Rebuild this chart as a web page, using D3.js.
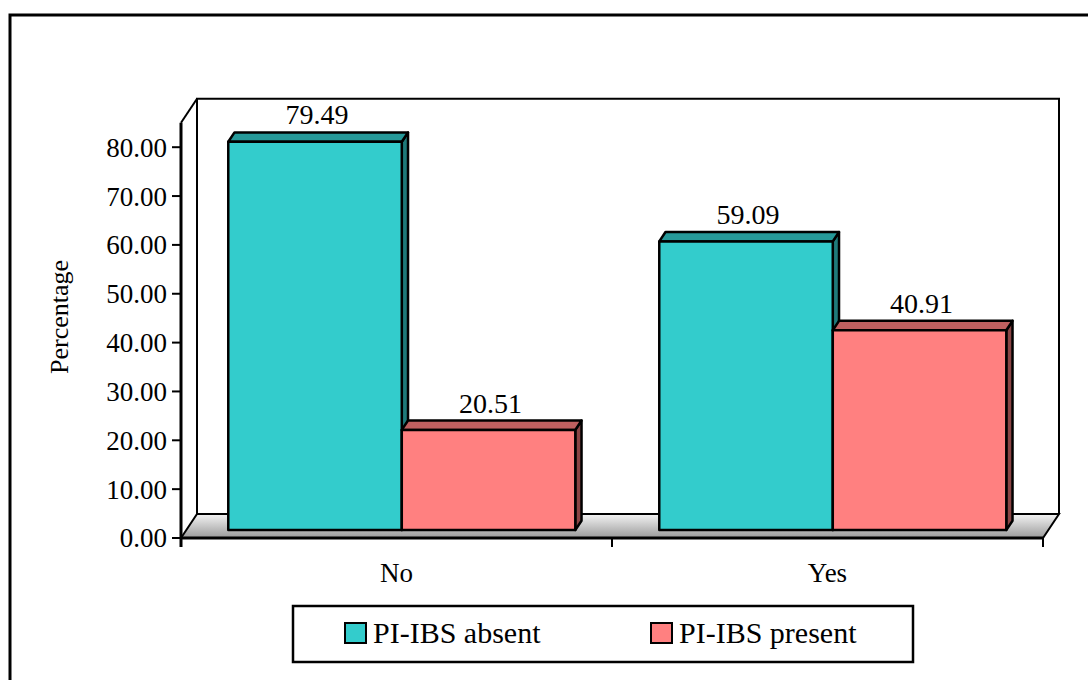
<!DOCTYPE html>
<html>
<head>
<meta charset="utf-8">
<script src="https://cdn.jsdelivr.net/npm/d3@7"></script>
<style>
  body { margin: 0; background: #fff; }
  svg text { font-family: "Liberation Serif", "DejaVu Serif", serif; }
</style>
</head>
<body>
<div id="chart"></div>
<script>
// Data
const categories = ['No', 'Yes'];
const seriesNames = ['PI-IBS absent', 'PI-IBS present'];
const absentValues = [79.49, 59.09];
const presentValues = [20.51, 40.91];
const yTicks = [0, 10, 20, 30, 40, 50, 60, 70, 80];

const width = 1088, height = 680;
const serif = '"Liberation Serif", "DejaVu Serif", serif';
const colors = {
  'PI-IBS absent':  { front: '#33cccc', top: '#269999', side: '#1f7a7a' },
  'PI-IBS present': { front: '#ff8080', top: '#bf6060', side: '#8a4545' }
};

// plot geometry (front plane)
const x0 = 181, x1 = 1043, yBase = 538;
const depth = [16, -24];           // full depth of the 3D box
const barFront = 0.33, barBack = 0.72;  // bar position inside the depth

const svg = d3.select('#chart').append('svg')
  .attr('width', width).attr('height', height)
  .attr('font-family', serif);

const defs = svg.append('defs');
const grad = defs.append('linearGradient').attr('id', 'floorGrad')
  .attr('x1', 0).attr('y1', 0).attr('x2', 0).attr('y2', 1);
grad.append('stop').attr('offset', '0%').attr('stop-color', '#f4f4f4');
grad.append('stop').attr('offset', '100%').attr('stop-color', '#9a9a9a');

// outer frame
svg.append('rect')
  .attr('x', 10).attr('y', 15).attr('width', 1100).attr('height', 700)
  .attr('fill', 'none').attr('stroke', '#000').attr('stroke-width', 3);

const y = d3.scaleLinear().domain([0, 85]).range([yBase, yBase - 85 * 4.885]);

const xCat = d3.scaleBand().domain(categories).range([x0, x1]).padding(0);
const xSer = d3.scaleBand().domain(seriesNames).range([0, xCat.bandwidth()])
  .paddingInner(0).paddingOuter(0.242);

const dx = depth[0], dy = depth[1];
const yTop = y(85);

// floor
svg.append('polygon')
  .attr('points', [[x0, yBase], [x0 + dx, yBase + dy], [x1 + dx, yBase + dy], [x1, yBase]].join(' '))
  .attr('fill', 'url(#floorGrad)').attr('stroke', '#000').attr('stroke-width', 2);

// back wall
svg.append('path')
  .attr('d', `M${x0 + dx},${yBase + dy} V${yTop + dy} H${x1 + dx} V${yBase + dy}`)
  .attr('fill', 'none').attr('stroke', '#000').attr('stroke-width', 2);
// left side wall diagonal at top
svg.append('line')
  .attr('x1', x0).attr('y1', yTop).attr('x2', x0 + dx).attr('y2', yTop + dy)
  .attr('stroke', '#000').attr('stroke-width', 2);

// bars
const bars = [];
categories.forEach((c, i) => {
  bars.push({ cat: c, ser: seriesNames[0], value: absentValues[i] });
  bars.push({ cat: c, ser: seriesNames[1], value: presentValues[i] });
});

const fx = barFront * dx, fy = barFront * dy;
const bdx = (barBack - barFront) * dx, bdy = (barBack - barFront) * dy;

const g = svg.append('g').attr('stroke', '#000').attr('stroke-width', 2.5)
  .attr('stroke-linejoin', 'round');

// left to right: each bar's front covers the previous bar's side face
bars.forEach(d => {
  const left = xCat(d.cat) + xSer(d.ser) + fx;
  const right = left + xSer.bandwidth();
  const top = y(d.value) + fy;
  const bottom = yBase + fy;
  const col = colors[d.ser];
  // side face
  g.append('polygon')
    .attr('points', [[right, bottom], [right + bdx, bottom + bdy], [right + bdx, top + bdy], [right, top]].join(' '))
    .attr('fill', col.side);
  // top face
  g.append('polygon')
    .attr('points', [[left, top], [left + bdx, top + bdy], [right + bdx, top + bdy], [right, top]].join(' '))
    .attr('fill', col.top);
  // front face
  g.append('rect')
    .attr('x', left).attr('y', top).attr('width', right - left).attr('height', bottom - top)
    .attr('fill', col.front);
});

// value labels
svg.append('g').selectAll('text').data(bars).enter().append('text')
  .attr('x', d => xCat(d.cat) + xSer(d.ser) + fx + xSer.bandwidth() / 2 + 2)
  .attr('y', d => y(d.value) + fy + bdy - 8)
  .attr('text-anchor', 'middle')
  .attr('font-family', serif)
  .attr('font-size', 28)
  .text(d => d.value.toFixed(2));

// front floor edge (x axis)
svg.append('line')
  .attr('x1', x0).attr('y1', yBase).attr('x2', x1).attr('y2', yBase)
  .attr('stroke', '#000').attr('stroke-width', 3);

// x ticks
const xTickPos = [x0].concat(categories.map(c => xCat(c) + xCat.bandwidth()));
svg.append('g').selectAll('line').data(xTickPos).enter().append('line')
  .attr('x1', d => d).attr('x2', d => d)
  .attr('y1', yBase).attr('y2', yBase + 9)
  .attr('stroke', '#000').attr('stroke-width', 2);

svg.append('g').selectAll('text').data(categories).enter().append('text')
  .attr('x', d => xCat(d) + xCat.bandwidth() / 2)
  .attr('y', 582)
  .attr('text-anchor', 'middle')
  .attr('font-family', serif)
  .attr('font-size', 27)
  .text(d => d);

// y axis
svg.append('line')
  .attr('x1', x0).attr('y1', yTop).attr('x2', x0).attr('y2', yBase + 9)
  .attr('stroke', '#000').attr('stroke-width', 3);

const yAxis = svg.append('g');
yAxis.selectAll('line').data(yTicks).enter().append('line')
  .attr('x1', x0 - 9).attr('x2', x0)
  .attr('y1', d => y(d)).attr('y2', d => y(d))
  .attr('stroke', '#000').attr('stroke-width', 2);
yAxis.selectAll('text').data(yTicks).enter().append('text')
  .attr('x', x0 - 14)
  .attr('y', d => y(d))
  .attr('dy', '0.35em')
  .attr('text-anchor', 'end')
  .attr('font-family', serif)
  .attr('font-size', 27)
  .text(d => d.toFixed(2));

svg.append('text')
  .attr('transform', 'translate(68,317) rotate(-90)')
  .attr('text-anchor', 'middle')
  .attr('font-family', serif)
  .attr('font-size', 26)
  .text('Percentage');

// legend
const legend = svg.append('g');
legend.append('rect')
  .attr('x', 293).attr('y', 606).attr('width', 620).attr('height', 56)
  .attr('fill', '#fff').attr('stroke', '#000').attr('stroke-width', 2.5);
const legendX = [345, 651];
seriesNames.forEach((s, i) => {
  legend.append('rect')
    .attr('x', legendX[i]).attr('y', 623).attr('width', 21).attr('height', 20)
    .attr('fill', colors[s].front).attr('stroke', '#000').attr('stroke-width', 2);
  legend.append('text')
    .attr('x', legendX[i] + 28).attr('y', 643)
    .attr('font-family', serif)
    .attr('font-size', 30)
    .text(s);
});
</script>
</body>
</html>
